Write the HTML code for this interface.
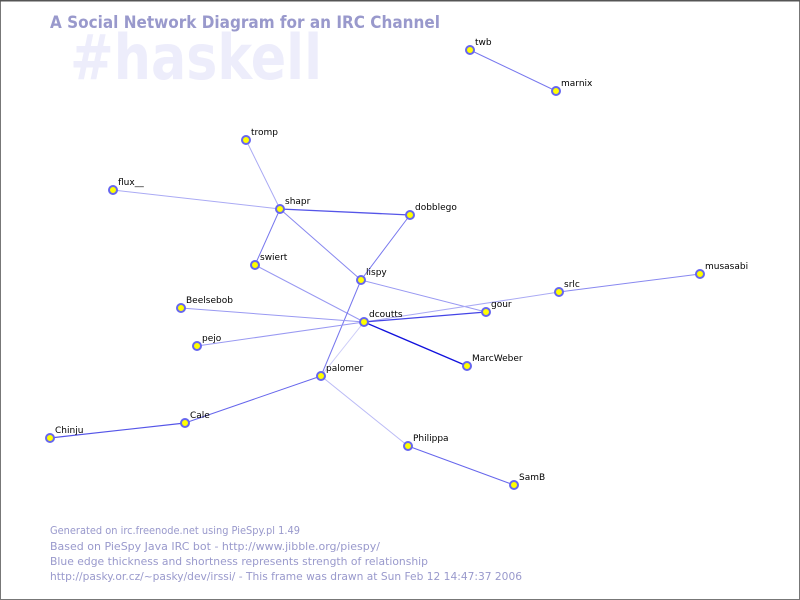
<!DOCTYPE html>
<html><head><style>
html,body{margin:0;padding:0;background:#fff;}
svg{display:block;}
text{font-family:"DejaVu Sans","Liberation Sans",sans-serif;}
</style></head><body>
<svg width="800" height="600" viewBox="0 0 800 600" xmlns="http://www.w3.org/2000/svg">
<rect x="0.5" y="0.5" width="799" height="599" fill="#fff" stroke="#777"/>
<line x1="0" y1="0.5" x2="800" y2="0.5" stroke="#555" stroke-width="2"/>
<text x="70" y="79" font-size="62" font-weight="bold" fill="#ededfb" textLength="252" lengthAdjust="spacingAndGlyphs">#haskell</text>
<text x="50" y="28" font-size="17" font-weight="bold" fill="#9999cc" textLength="390" lengthAdjust="spacingAndGlyphs">A Social Network Diagram for an IRC Channel</text>
<g stroke-linecap="round">
<line x1="470" y1="50" x2="556" y2="91" stroke="#7777ee" stroke-width="1"/>
<line x1="246" y1="140" x2="280" y2="209" stroke="#aaaaf4"/>
<line x1="113" y1="190" x2="280" y2="209" stroke="#aaaaf4"/>
<line x1="280" y1="209" x2="410" y2="215" stroke="#5555e8" stroke-width="1.3"/>
<line x1="280" y1="209" x2="255" y2="265" stroke="#7777ee"/>
<line x1="280" y1="209" x2="361" y2="280" stroke="#8888f0"/>
<line x1="410" y1="215" x2="361" y2="280" stroke="#7777ee"/>
<line x1="255" y1="265" x2="364" y2="322" stroke="#9999f2"/>
<line x1="361" y1="280" x2="486" y2="312" stroke="#9999f2"/>
<line x1="361" y1="280" x2="321" y2="376" stroke="#7777ee"/>
<line x1="181" y1="308" x2="364" y2="322" stroke="#9999f2"/>
<line x1="197" y1="346" x2="364" y2="322" stroke="#9999f2"/>
<line x1="364" y1="322" x2="559" y2="292" stroke="#aaaaf4"/>
<line x1="364" y1="322" x2="486" y2="312" stroke="#4444e6" stroke-width="1.3"/>
<line x1="364" y1="322" x2="467" y2="366" stroke="#1111dd" stroke-width="1.3"/>
<line x1="364" y1="322" x2="321" y2="376" stroke="#ccccf8"/>
<line x1="559" y1="292" x2="700" y2="274" stroke="#8888f0"/>
<line x1="321" y1="376" x2="185" y2="423" stroke="#6666ec"/>
<line x1="185" y1="423" x2="50" y2="438" stroke="#5555e8" stroke-width="1.2"/>
<line x1="321" y1="376" x2="408" y2="446" stroke="#bbbbf6"/>
<line x1="408" y1="446" x2="514" y2="485" stroke="#6666ec"/>
</g>
<g fill="#ffff00" stroke="#6666ee" stroke-width="2">
<circle cx="470" cy="50" r="4"/><circle cx="556" cy="91" r="4"/><circle cx="246" cy="140" r="4"/>
<circle cx="113" cy="190" r="4"/><circle cx="280" cy="209" r="4"/><circle cx="410" cy="215" r="4"/>
<circle cx="255" cy="265" r="4"/><circle cx="361" cy="280" r="4"/><circle cx="181" cy="308" r="4"/>
<circle cx="364" cy="322" r="4"/><circle cx="486" cy="312" r="4"/><circle cx="559" cy="292" r="4"/>
<circle cx="700" cy="274" r="4"/><circle cx="197" cy="346" r="4"/><circle cx="467" cy="366" r="4"/>
<circle cx="321" cy="376" r="4"/><circle cx="185" cy="423" r="4"/><circle cx="50" cy="438" r="4"/>
<circle cx="408" cy="446" r="4"/><circle cx="514" cy="485" r="4"/>
</g>
<g font-size="9" fill="#000">
<text x="475" y="45">twb</text><text x="561" y="86">marnix</text><text x="251" y="135">tromp</text>
<text x="118" y="185">flux__</text><text x="285" y="204">shapr</text><text x="415" y="210">dobblego</text>
<text x="260" y="260">swiert</text><text x="366" y="275">lispy</text><text x="186" y="303">Beelsebob</text>
<text x="369" y="317">dcoutts</text><text x="491" y="307">gour</text><text x="564" y="287">srlc</text>
<text x="705" y="269">musasabi</text><text x="202" y="341">pejo</text><text x="472" y="361">MarcWeber</text>
<text x="326" y="371">palomer</text><text x="190" y="418">Cale</text><text x="55" y="433">Chinju</text>
<text x="413" y="441">Philippa</text><text x="519" y="480">SamB</text>
</g>
<g font-size="11" fill="#9999cc">
<text x="50" y="534" textLength="250" lengthAdjust="spacingAndGlyphs">Generated on irc.freenode.net using PieSpy.pl 1.49</text>
<text x="50" y="550" textLength="330" lengthAdjust="spacingAndGlyphs">Based on PieSpy Java IRC bot - http://www.jibble.org/piespy/</text>
<text x="50" y="565" textLength="378" lengthAdjust="spacingAndGlyphs">Blue edge thickness and shortness represents strength of relationship</text>
<text x="50" y="580" textLength="472" lengthAdjust="spacingAndGlyphs">http://pasky.or.cz/~pasky/dev/irssi/ - This frame was drawn at Sun Feb 12 14:47:37 2006</text>
</g>
</svg>
</body></html>
